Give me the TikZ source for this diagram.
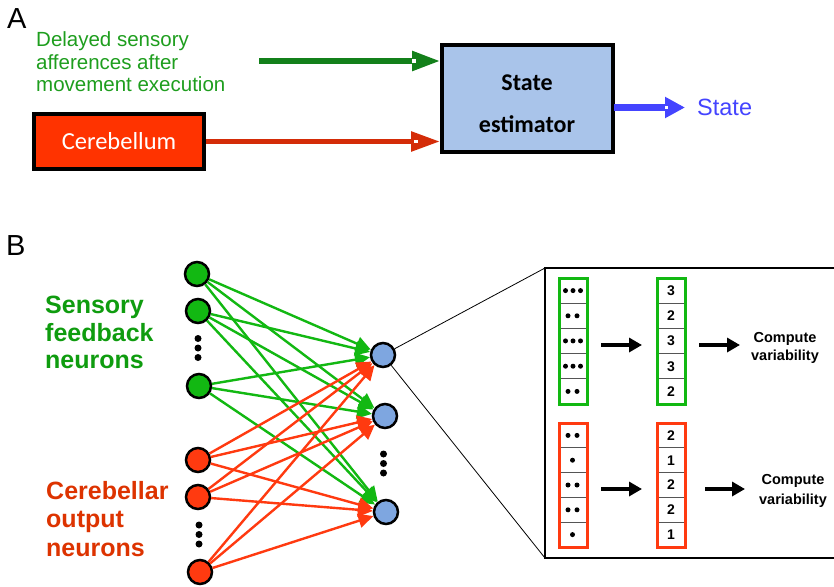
\documentclass[tikz,border=0pt]{standalone}
\usepackage{fontspec}
\setmainfont{Liberation Sans}
\newfontfamily\carlito{Carlito}
\usetikzlibrary{arrows.meta}
\definecolor{agreen}{HTML}{1E9E1E}
\definecolor{aarrowgreen}{HTML}{13801A}
\definecolor{cerebred}{HTML}{FF3300}
\definecolor{arrowred}{HTML}{D42C08}
\definecolor{estblue}{HTML}{A9C4EA}
\definecolor{stateblue}{HTML}{4444FF}
\definecolor{ngreen}{HTML}{12B812}
\definecolor{nred}{HTML}{FF3A10}
\definecolor{nblue}{HTML}{7EA6E0}
\definecolor{lblred}{HTML}{DD3300}
\definecolor{celline}{HTML}{555555}
\tikzset{
  x=1pt, y=-1pt,
  neuron/.style={circle, draw=black, line width=2.5pt, minimum size=24pt, inner sep=0pt},
  gconn/.style={draw=ngreen, line width=2.4pt, -{Triangle[length=15pt,width=14pt]}},
  rconn/.style={draw=nred, line width=2.4pt, -{Triangle[length=15pt,width=14pt]}},
  bigdot/.style={circle, fill=black, inner sep=0pt, minimum size=7pt},
  celldot/.style={circle, fill=black, inner sep=0pt, minimum size=5pt},
  num/.style={font=\fontsize{14}{14}\selectfont\bfseries, inner sep=0pt},
  smallarrow/.style={line width=4.5pt, -{Triangle[length=13pt,width=14pt]}}
}
\begin{document}
\begin{tikzpicture}
\useasboundingbox (0,0) rectangle (834,586);
\clip (0,0) rectangle (834,586);
\fill[white] (0,0) rectangle (834,586);

% ---------- Panel A ----------
\node[anchor=base west, inner sep=0pt, font=\fontsize{29}{29}\selectfont] (labA) at (7,29) {A};
\node[anchor=base west, inner sep=0pt, text=agreen, font=\fontsize{20.5}{22}\selectfont] (tA1) at (36,46.5) {Delayed sensory};
\node[anchor=base west, inner sep=0pt, text=agreen, font=\fontsize{20.5}{22}\selectfont] (tA2) at (36,69) {afferences after};
\node[anchor=base west, inner sep=0pt, text=agreen, font=\fontsize{20.5}{22}\selectfont] (tA3) at (36,91.5) {movement execution};

\node[draw=black, line width=3.5pt, fill=cerebred, minimum width=170pt, minimum height=55pt, inner sep=0pt,
      text=white, font=\carlito\fontsize{24.5}{24.5}\selectfont] (cereb) at (119,141.5) {Cerebellum};

\node[draw=black, line width=4pt, fill=estblue, minimum width=171pt, minimum height=107pt, inner sep=0pt] (est) at (527.5,98.5) {};
\node[anchor=base, inner sep=0pt, font=\carlito\fontsize{24}{24}\selectfont\bfseries] (estT1) at (527,90) {State};
\node[anchor=base, inner sep=0pt, font=\carlito\fontsize{24}{24}\selectfont\bfseries] (estT2) at (527,132) {estimator};

\coordinate (gstart) at (259,61);
\draw[aarrowgreen, line width=5.5pt, -{Triangle[length=28pt,width=19pt]}] (gstart) -- (est.west |- gstart);
\fill[white] (412,59.3) rectangle (415.5,62.7);

\draw[arrowred, line width=5.5pt, -{Triangle[length=29pt,width=19pt]}] (cereb.east) -- (est.west |- cereb.east);
\fill[white] (414,139.8) rectangle (417.5,143.2);

\node[anchor=base west, inner sep=0pt, text=stateblue, font=\fontsize{23.5}{23.5}\selectfont] (stateT) at (697,115.5) {State};
\coordinate (bstart) at (614,107.5);
\coordinate (bend) at (685,107.5);
\draw[stateblue, line width=7pt, -{Triangle[length=20pt,width=20pt]}] (bstart) -- (bend);
\fill[white] (665,106) rectangle (667.5,109);

% ---------- Panel B ----------
\node[anchor=base west, inner sep=0pt, font=\fontsize{29}{29}\selectfont] (labB) at (6,255) {B};

\tikzset{lbl/.style={anchor=base west, inner sep=0pt, font=\fontsize{25}{27}\selectfont\bfseries}}
\node[lbl, text=ngreen!85!black] (s1) at (45,313) {Sensory};
\node[lbl, text=ngreen!85!black] (s2) at (45,341) {feedback};
\node[lbl, text=ngreen!85!black] (s3) at (45,368) {neurons};
\node[lbl, text=lblred] (c1) at (46,499) {Cerebellar};
\node[lbl, text=lblred] (c2) at (46,527) {output};
\node[lbl, text=lblred] (c3) at (46,556) {neurons};

% neurons
\node[neuron, fill=ngreen] (G1) at (197,274) {};
\node[neuron, fill=ngreen] (G2) at (198,311) {};
\node[neuron, fill=ngreen] (G3) at (199,386) {};
\node[neuron, fill=nred] (R1) at (198,460) {};
\node[neuron, fill=nred] (R2) at (198,497) {};
\node[neuron, fill=nred] (R3) at (200,572) {};
\node[neuron, fill=nblue] (B1) at (383,355) {};
\node[neuron, fill=nblue] (B2) at (385,416) {};
\node[neuron, fill=nblue] (B3) at (386,512) {};

\foreach \yy [count=\i] in {338.5,348,357.5} \node[bigdot] (gd\i) at (198,\yy) {};
\foreach \yy [count=\i] in {525,534.5,544} \node[bigdot] (rd\i) at (199,\yy) {};
\foreach \yy [count=\i] in {454,463.5,473} \node[bigdot] (bd\i) at (383.5,\yy) {};

% connections
\foreach \s in {G1,G2,G3} \foreach \t in {B1,B2,B3} \draw[gconn] (\s) -- (\t);
\foreach \s in {R1,R2,R3} \foreach \t in {B1,B2,B3} \draw[rconn] (\s) -- (\t);

% zoom box
\coordinate (zTL) at (545,268);
\coordinate (zBL) at (545,558);
\coordinate (zBR) at (845,558);
\draw[black, line width=0.8pt] (B1) -- (zTL);
\draw[black, line width=0.8pt] (B1) -- (zBL);
\draw[black, line width=2pt] (zTL) rectangle (zBR);

% green columns
\draw[celline, line width=1pt] \foreach \k in {1,2,3,4} {(559,278+25.2*\k) -- (587,278+25.2*\k) (657,278+25.2*\k) -- (685,278+25.2*\k)};
\draw[ngreen, line width=3pt] (559,278) rectangle (587,404);
\draw[ngreen, line width=3pt] (657,278) rectangle (685,404);
% red columns
\draw[celline, line width=1pt] \foreach \k in {1,2,3,4} {(559,423+24.8*\k) -- (587,423+24.8*\k) (657,423+24.8*\k) -- (685,423+24.8*\k)};
\draw[nred, line width=3pt] (559,423) rectangle (587,547);
\draw[nred, line width=3pt] (657,423) rectangle (685,547);

% dots in green cells (3,2,3,3,2)
\foreach \yy [count=\i] in {290.6,340.9,366.2} {
  \node[celldot] (gc3a\i) at (565.5,\yy) {};
  \node[celldot] (gc3b\i) at (573,\yy) {};
  \node[celldot] (gc3c\i) at (580.5,\yy) {};
}
\foreach \yy [count=\i] in {315.8,391.4} {
  \node[celldot] (gc2a\i) at (568,\yy) {};
  \node[celldot] (gc2b\i) at (577,\yy) {};
}
% dots in red cells (2,1,2,2,1)
\foreach \yy [count=\i] in {435.4,485,509.8} {
  \node[celldot] (rc2a\i) at (568,\yy) {};
  \node[celldot] (rc2b\i) at (577,\yy) {};
}
\foreach \yy [count=\i] in {460.2,534.6} \node[celldot] (rc1\i) at (572.5,\yy) {};

% numbers
\foreach \n/\yy [count=\i] in {3/290.6,2/315.8,3/341,3/366.2,2/391.4} \node[num] (gn\i) at (671,\yy) {\n};
\foreach \n/\yy [count=\i] in {2/435.4,1/460.2,2/485,2/509.8,1/534.6} \node[num] (rn\i) at (671,\yy) {\n};

% arrows in box
\coordinate (ga1s) at (601,345); \coordinate (ga1e) at (642,345);
\coordinate (ga2s) at (699,345); \coordinate (ga2e) at (740,345);
\coordinate (ra1s) at (601,489); \coordinate (ra1e) at (642,489);
\coordinate (ra2s) at (705,489); \coordinate (ra2e) at (745,489);
\draw[smallarrow] (ga1s) -- (ga1e);
\draw[smallarrow] (ga2s) -- (ga2e);
\draw[smallarrow] (ra1s) -- (ra1e);
\draw[smallarrow] (ra2s) -- (ra2e);

\tikzset{cvt/.style={anchor=base, inner sep=0pt, font=\fontsize{14.5}{14.5}\selectfont\bfseries}}
\node[cvt] (cvg1) at (785,342) {Compute};
\node[cvt] (cvg2) at (785,360) {variability};
\node[cvt] (cvr1) at (793,484) {Compute};
\node[cvt] (cvr2) at (793,504) {variability};
\end{tikzpicture}
\end{document}
